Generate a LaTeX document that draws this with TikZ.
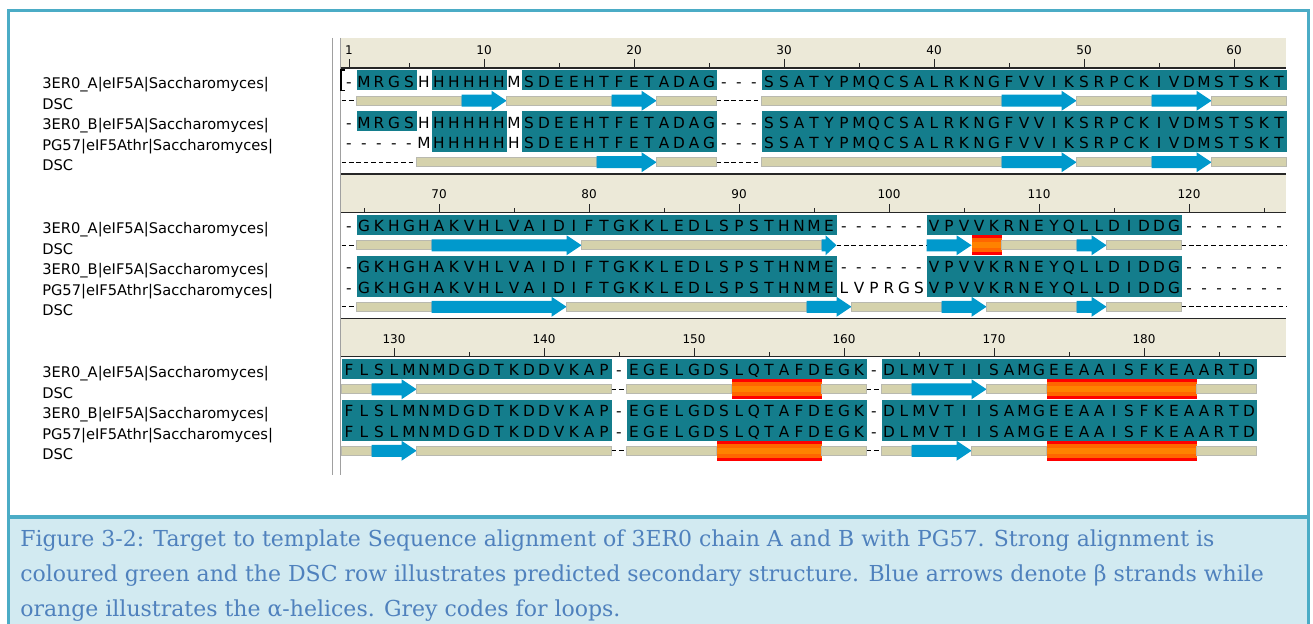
\documentclass[tikz,border=0pt]{standalone}
\usepackage{fontspec}
\setmainfont{DejaVu Sans}
\newfontfamily\capfont{DejaVu Serif}
\definecolor{frameblue}{RGB}{75,172,198}
\definecolor{capfill}{RGB}{210,234,241}
\definecolor{captext}{RGB}{79,129,189}
\definecolor{tealbg}{RGB}{20,125,140}
\definecolor{rulerbg}{RGB}{236,233,216}
\definecolor{barfill}{RGB}{213,210,172}
\definecolor{barline}{RGB}{185,185,175}
\definecolor{strand}{RGB}{0,153,204}
\definecolor{helixred}{RGB}{255,0,0}
\definecolor{helixor}{RGB}{255,102,0}
\definecolor{helixlt}{RGB}{255,130,0}
\definecolor{panelgrey}{RGB}{160,160,160}

\makeatletter
\newcommand\seqrow[3]{%
  \def\sr@name{#1}\def\sr@y{#2}\def\sr@i{0}%
  \sr@loop#3\@nil}
\def\sr@loop#1{\ifx#1\@nil\else
  \pgfmathtruncatemacro\sr@i{\sr@i+1}%
  \node[res] (\sr@name-\sr@i) at ({349+(\sr@i-1)*15},\sr@y) {#1};%
  \expandafter\sr@loop\fi}
\makeatother

\newcommand\tealrange[4]{\fill[tealbg] ({341.5+(#3-1)*15},#1) rectangle ({341.5+#4*15},#2);}
\newcommand\sbar[3]{\filldraw[fill=barfill,draw=barline,line width=0.5pt] ({341.5+(#2-1)*15},#1-4.5) rectangle ({341.5+#3*15},#1+4.5);}
\newcommand\sdash[3]{\draw[black,line width=0.75pt,dash pattern=on 3.4pt off 2.2pt] ({341.5+(#2-1)*15},#1) -- ({341.5+#3*15},#1);}
\newcommand\sarrow[3]{%
  \pgfmathsetmacro\ax{341.5+(#2-1)*15}\pgfmathsetmacro\bx{341.5+#3*15}%
  \pgfmathsetmacro\hx{\bx-15+4*(#3==#2)}%
  \fill[strand] (\ax,#1-6) -- (\hx,#1-6) -- (\hx,#1-10) -- (\bx,#1) -- (\hx,#1+10) -- (\hx,#1+6) -- (\ax,#1+6) -- cycle;}
\newcommand\shelix[3]{%
  \pgfmathsetmacro\ax{341.5+(#2-1)*15}\pgfmathsetmacro\bx{341.5+#3*15}%
  \fill[helixred] (\ax,#1-10) rectangle (\bx,#1+10);
  \fill[helixor] (\ax,#1-7) rectangle (\bx,#1+7);
  \fill[helixlt] (\ax,#1-3) rectangle (\bx,#1+3);}

\begin{document}
\begin{tikzpicture}[x=0.75pt,y=-0.75pt,
  res/.style={anchor=base,inner sep=0pt,font=\fontsize{11.5}{13}\selectfont},
  lab/.style={anchor=base west,inner sep=0pt,font=\fontsize{11}{13}\selectfont},
  rnum/.style={anchor=base,inner sep=0pt,font=\fontsize{9}{11}\selectfont},
  captxt/.style={anchor=base west,inner sep=0pt,text=captext,font=\capfont\fontsize{16.5}{19}\selectfont},
  tick/.style={black!85,line width=0.75pt},
  rline/.style={black!85,line width=1.1pt}]
\useasboundingbox (0,0) rectangle (1313,624);
\fill[white] (0,0) rectangle (1313,624);

% caption area and frame
\fill[capfill] (8.5,517) rectangle (1308.3,624);
\draw[frameblue,line width=2.5pt] (8.5,624) -- (8.5,10.7) -- (1308.3,10.7) -- (1308.3,624);
\draw[frameblue,line width=3pt] (8.5,517) -- (1308.3,517);

% rulers
\fill[rulerbg] (341,38) rectangle (1286,68);
\fill[rulerbg] (341,174) rectangle (1286,212.5);
\fill[rulerbg] (341,318.5) rectangle (1286,356.5);
\draw[rline] (341,68) -- (1286,68);
\draw[rline] (341,174) -- (1286,174);
\draw[rline] (341,212.5) -- (1286,212.5);
\draw[rline] (341,318.5) -- (1286,318.5);
\draw[rline] (341,356.5) -- (1286,356.5);
\foreach \g in {1,10,20,30,40,50,60}{
  \pgfmathsetmacro\tx{349+(\g-1)*15}
  \draw[tick] (\tx,68) -- (\tx,59);
  \node[rnum] (n\g) at (\tx,54.5) {\g};}
\foreach \g in {5,15,...,55}{\draw[tick] ({349+(\g-1)*15},68) -- ++(0,-5);}
\foreach \g in {70,80,...,120}{
  \pgfmathsetmacro\tx{349+(\g-64)*15}
  \draw[tick] (\tx,212.5) -- (\tx,203.5);
  \node[rnum] (n\g) at (\tx,199) {\g};}
\foreach \g in {65,75,...,125}{\draw[tick] ({349+(\g-64)*15},212.5) -- ++(0,-5);}
\foreach \g in {130,140,...,180}{
  \pgfmathsetmacro\tx{349+(\g-127)*15}
  \draw[tick] (\tx,356.5) -- (\tx,347.5);
  \node[rnum] (n\g) at (\tx,343) {\g};}
\foreach \g in {135,145,...,185}{\draw[tick] ({349+(\g-127)*15},356.5) -- ++(0,-5);}

% panel left edge
\draw[panelgrey,line width=1.1pt] (332.3,38) -- (332.3,475);
\draw[panelgrey,line width=1.1pt] (340.3,38) -- (340.3,475);

% teal backgrounds
\tealrange{70}{90.5}{2}{5}\tealrange{70}{90.5}{7}{11}\tealrange{70}{90.5}{13}{25}\tealrange{70}{90.5}{29}{63}
\tealrange{111}{131.5}{2}{5}
\tealrange{111}{152}{7}{11}\tealrange{111}{152}{13}{25}\tealrange{111}{152}{29}{63}
\tealrange{214.5}{235}{2}{33}\tealrange{214.5}{235}{40}{56}
\tealrange{255.5}{296.5}{2}{33}\tealrange{255.5}{296.5}{40}{56}
\tealrange{358.5}{379}{1}{18}\tealrange{358.5}{379}{20}{35}\tealrange{358.5}{379}{37}{61}
\tealrange{399.5}{440.5}{1}{18}\tealrange{399.5}{440.5}{20}{35}\tealrange{399.5}{440.5}{37}{61}

% cursor
\draw[black,line width=0.8pt] (345,70) -- (341,70) -- (341,90.5) -- (345,90.5);

% sequences
\seqrow{s1a}{87.3}{-MRGSHHHHHHMSDEEHTFETADAG---SSATYPMQCSALRKNGFVVIKSRPCKIVDMSTSKT}
\seqrow{s1b}{128.3}{-MRGSHHHHHHMSDEEHTFETADAG---SSATYPMQCSALRKNGFVVIKSRPCKIVDMSTSKT}
\seqrow{s1c}{148.8}{-----MHHHHHHSDEEHTFETADAG---SSATYPMQCSALRKNGFVVIKSRPCKIVDMSTSKT}
\seqrow{s2a}{231.8}{-GKHGHAKVHLVAIDIFTGKKLEDLSPSTHNME------VPVVKRNEYQLLDIDDG-------}
\seqrow{s2b}{272.8}{-GKHGHAKVHLVAIDIFTGKKLEDLSPSTHNME------VPVVKRNEYQLLDIDDG-------}
\seqrow{s2c}{293.3}{-GKHGHAKVHLVAIDIFTGKKLEDLSPSTHNMELVPRGSVPVVKRNEYQLLDIDDG-------}
\seqrow{s3a}{375.8}{FLSLMNMDGDTKDDVKAP-EGELGDSLQTAFDEGK-DLMVTIISAMGEEAAISFKEAARTD}
\seqrow{s3b}{416.8}{FLSLMNMDGDTKDDVKAP-EGELGDSLQTAFDEGK-DLMVTIISAMGEEAAISFKEAARTD}
\seqrow{s3c}{437.3}{FLSLMNMDGDTKDDVKAP-EGELGDSLQTAFDEGK-DLMVTIISAMGEEAAISFKEAARTD}

% DSC block 1
\sdash{100.75}{1}{1}\sbar{100.75}{2}{8}\sarrow{100.75}{9}{11}\sbar{100.75}{12}{18}\sarrow{100.75}{19}{21}
\sbar{100.75}{22}{25}\sdash{100.75}{26}{28}\sbar{100.75}{29}{44}\sarrow{100.75}{45}{49}\sbar{100.75}{50}{54}
\sarrow{100.75}{55}{58}\sbar{100.75}{59}{63}
\sdash{162.25}{1}{5}\sbar{162.25}{6}{17}\sarrow{162.25}{18}{21}\sbar{162.25}{22}{25}\sdash{162.25}{26}{28}
\sbar{162.25}{29}{44}\sarrow{162.25}{45}{49}\sbar{162.25}{50}{54}\sarrow{162.25}{55}{58}\sbar{162.25}{59}{63}
% DSC block 2
\sdash{245.25}{1}{1}\sbar{245.25}{2}{6}\sarrow{245.25}{7}{16}\sbar{245.25}{17}{32}\sarrow{245.25}{33}{33}
\sdash{245.25}{34}{39}\sarrow{245.25}{40}{42}\shelix{245.25}{43}{44}\sbar{245.25}{45}{49}\sarrow{245.25}{50}{51}
\sbar{245.25}{52}{56}\sdash{245.25}{57}{63}
\sdash{306.75}{1}{1}\sbar{306.75}{2}{6}\sarrow{306.75}{7}{15}\sbar{306.75}{16}{31}\sarrow{306.75}{32}{34}
\sbar{306.75}{35}{40}\sarrow{306.75}{41}{43}\sbar{306.75}{44}{49}\sarrow{306.75}{50}{51}\sbar{306.75}{52}{56}
\sdash{306.75}{57}{63}
% DSC block 3
\sbar{389.25}{1}{2}\sarrow{389.25}{3}{5}\sbar{389.25}{6}{18}\sdash{389.25}{19}{19}\sbar{389.25}{20}{26}
\shelix{389.25}{27}{32}\sbar{389.25}{33}{35}\sdash{389.25}{36}{36}\sbar{389.25}{37}{38}\sarrow{389.25}{39}{43}
\sbar{389.25}{44}{47}\shelix{389.25}{48}{57}\sbar{389.25}{58}{61}
\sbar{450.75}{1}{2}\sarrow{450.75}{3}{5}\sbar{450.75}{6}{18}\sdash{450.75}{19}{19}\sbar{450.75}{20}{25}
\shelix{450.75}{26}{32}\sbar{450.75}{33}{35}\sdash{450.75}{36}{36}\sbar{450.75}{37}{38}\sarrow{450.75}{39}{42}
\sbar{450.75}{43}{47}\shelix{450.75}{48}{57}\sbar{450.75}{58}{61}

% labels
\node[lab] (l1a) at (42,89) {3ER0\_A|eIF5A|Saccharomyces|};
\node[lab] (l1b) at (42,109.5) {DSC};
\node[lab] (l1c) at (42,130) {3ER0\_B|eIF5A|Saccharomyces|};
\node[lab] (l1d) at (42,150.5) {PG57|eIF5Athr|Saccharomyces|};
\node[lab] (l1e) at (42,171) {DSC};
\node[lab] (l2a) at (42,233.5) {3ER0\_A|eIF5A|Saccharomyces|};
\node[lab] (l2b) at (42,254) {DSC};
\node[lab] (l2c) at (42,274.5) {3ER0\_B|eIF5A|Saccharomyces|};
\node[lab] (l2d) at (42,295) {PG57|eIF5Athr|Saccharomyces|};
\node[lab] (l2e) at (42,315.5) {DSC};
\node[lab] (l3a) at (42,377.5) {3ER0\_A|eIF5A|Saccharomyces|};
\node[lab] (l3b) at (42,398) {DSC};
\node[lab] (l3c) at (42,418.5) {3ER0\_B|eIF5A|Saccharomyces|};
\node[lab] (l3d) at (42,439) {PG57|eIF5Athr|Saccharomyces|};
\node[lab] (l3e) at (42,459.5) {DSC};

% caption
\node[captxt] (cap1) at (20,546) {Figure 3-2: Target to template Sequence alignment of 3ER0 chain A and B with PG57. Strong alignment is};
\node[captxt] (cap2) at (20,581) {coloured green and the DSC row illustrates predicted secondary structure. Blue arrows denote β strands while};
\node[captxt] (cap3) at (20,616) {orange illustrates the α-helices. Grey codes for loops.};
\end{tikzpicture}
\end{document}
